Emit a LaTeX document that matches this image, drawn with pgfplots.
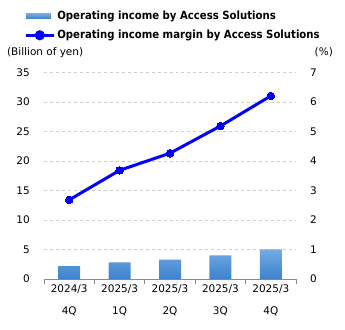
\documentclass[border=0pt]{standalone}
\usepackage{pgfplots}
\pgfplotsset{compat=1.18}
\usepackage{fontspec}
\setmainfont{DejaVu Sans}
\newfontfamily\legfont{DejaVu Sans Condensed}
\definecolor{bartop}{RGB}{115,170,225}
\definecolor{barbot}{RGB}{60,130,205}
\definecolor{gridc}{RGB}{205,205,205}
\definecolor{axc}{RGB}{140,140,140}
\begin{document}
\begin{tikzpicture}
\useasboundingbox (-44bp,-51bp) rectangle (301bp,279bp);
\begin{axis}[
  at={(0,0)}, anchor=south west,
  width=252bp, height=206.7bp, scale only axis,
  xmin=-0.5, xmax=4.5, ymin=0, ymax=35,
  ytick={0,5,...,35},
  xtick={0,1,2,3,4},
  xticklabels={{2024/3\\4Q},{2025/3\\1Q},{2025/3\\2Q},{2025/3\\3Q},{2025/3\\4Q}},
  minor xtick={-0.5,0.5,...,4.5},
  tick align=outside,
  major tick length=0pt,
  minor tick length=5bp,
  minor tick style={axc, line width=0.8bp},
  axis x line*=bottom,
  axis y line*=left,
  x axis line style={axc, line width=0.8bp, -},
  y axis line style={draw=none},
  ytick style={draw=none},
  ymajorgrids,
  grid style={gridc, dashed, line width=0.6bp},
  tick label style={font=\fontsize{10.5}{21.5}\selectfont, /pgf/number format/assume math mode=true},
  xticklabel style={align=center, yshift=-2.5bp},
  yticklabel style={inner sep=0pt, xshift=-14bp},
  clip=false,
]
\addplot[ybar, bar width=22bp, draw=none, top color=bartop, bottom color=barbot]
  coordinates {(0,2.2) (1,2.8) (2,3.3) (3,4.0) (4,5.0)};
\node[anchor=west, inner sep=0pt, font=\fontsize{10.5}{12}\selectfont] at (rel axis cs:-0.147,1.097) {(Billion of yen)};
\node[anchor=east, inner sep=0pt, font=\fontsize{10.5}{12}\selectfont] at (rel axis cs:1.147,1.097) {(\%)};
\end{axis}
\begin{axis}[
  at={(0,0)}, anchor=south west,
  width=252bp, height=206.7bp, scale only axis,
  xmin=-0.5, xmax=4.5, ymin=0, ymax=7,
  ytick={0,1,...,7},
  axis x line=none,
  axis y line*=right,
  y axis line style={draw=none},
  ytick style={draw=none},
  tick label style={font=\fontsize{10.5}{12}\selectfont, /pgf/number format/assume math mode=true},
  yticklabel style={inner sep=0pt, xshift=14bp},
  clip=false,
  legend style={at={(rel axis cs:-0.079,1.306)}, anchor=north west, draw=none, fill=none,
    inner sep=0pt, row sep=5bp, font=\legfont\bfseries\fontsize{11.3}{13}\selectfont,
    cells={anchor=west}},
  legend cell align=left,
]
\addlegendimage{legend image code/.code={\path[draw=none, top color=bartop, bottom color=barbot] (0bp,-2.5bp) rectangle (25bp,2.5bp);}}
\addlegendentry{Operating income by Access Solutions}
\addplot[color=blue, line width=3bp, mark=*, mark size=3.8bp, mark options={fill=blue, line width=0pt},
  legend image code/.code={\draw[blue, line width=3bp] (0bp,0bp) -- (28bp,0bp); \fill[blue] (14bp,0bp) circle (3.5bp);}]
  coordinates {(0,2.68) (1,3.68) (2,4.26) (3,5.18) (4,6.20)};
\addlegendentry{Operating income margin by Access Solutions}
\end{axis}
\end{tikzpicture}
\end{document}
